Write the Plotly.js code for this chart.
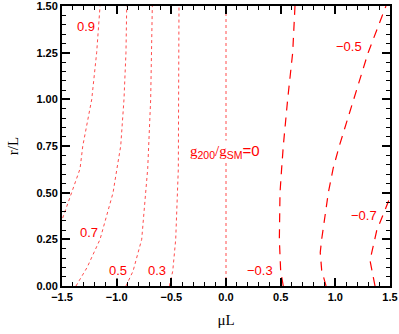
<!DOCTYPE html>
<html>
<head>
<meta charset="utf-8">
<script src="https://cdn.plot.ly/plotly-3.0.1.min.js"></script>
<style>
  html, body { margin: 0; padding: 0; background: #fff; }
  #chart { width: 399px; height: 334px; }
</style>
</head>
<body>
<div id="chart"></div>
<script>
// contour levels, each as (muL, r/L) points
const x09 = [-1.494, -1.41, -1.335, -1.31, -1.228, -1.183, -1.152];
const y09 = [0.364, 0.5, 0.628, 0.75, 1.0, 1.25, 1.5];
const x07 = [-1.372, -1.27, -1.152, -1.033, -0.997, -0.963, -0.933, -0.915, -0.908];
const y07 = [0, 0.1, 0.25, 0.5, 0.63, 0.75, 1.0, 1.25, 1.5];
const x05 = [-0.915, -0.85, -0.771, -0.734, -0.716, -0.689, -0.674];
const y05 = [0, 0.08, 0.25, 0.5, 0.63, 1.0, 1.5];
const x03 = [-0.518, -0.487, -0.46, -0.445, -0.436, -0.43];
const y03 = [0, 0.08, 0.25, 0.5, 0.63, 1.5];
const x00 = [0, 0];
const y00 = [0, 1.5];
const xm03 = [0.524, 0.5, 0.488, 0.494, 0.509, 0.524, 0.564, 0.61, 0.631];
const ym03 = [0, 0.08, 0.25, 0.5, 0.63, 0.75, 1.0, 1.25, 1.5];
const xm05 = [0.915, 0.875, 0.862, 0.875, 0.936, 0.98, 1.036, 1.165, 1.30, 1.463];
const ym05 = [0, 0.085, 0.18, 0.25, 0.5, 0.63, 0.75, 1.0, 1.25, 1.5];
const xm07 = [1.363, 1.317, 1.378, 1.49];
const ym07 = [0, 0.137, 0.296, 0.46];

const labelText = ['0.9', '0.7', '0.5', '0.3', '\u22120.3', '\u22120.5', '\u22120.7'];
const labelX = [-1.28, -1.249, -0.992, -0.627, 0.311, 1.125, 1.262];
const labelY = [1.39, 0.285, 0.084, 0.084, 0.084, 1.283, 0.38];

const xTicks = [-1.5, -1.0, -0.5, 0.0, 0.5, 1.0, 1.5];
const yTicks = [0, 0.25, 0.5, 0.75, 1.0, 1.25, 1.5];

const red = 'rgb(255,0,0)';
const dotted = {color: 'rgba(255,0,0,0.7)', width: 1, dash: 'dot'};
const dashed = {color: red, width: 1.2, dash: '9px,7px'};

function line(x, y, style) {
  return {x: x, y: y, type: 'scatter', mode: 'lines', line: style,
    hoverinfo: 'skip', showlegend: false};
}

const data = [
  line(x09, y09, dotted),
  line(x07, y07, dotted),
  line(x05, y05, dotted),
  line(x03, y03, dotted),
  line(x00, y00, dotted),
  line(xm03, ym03, dashed),
  line(xm05, ym05, dashed),
  line(xm07, ym07, dashed)
];

const annotations = labelText.map((t, i) => ({
  x: labelX[i], y: labelY[i], text: t, showarrow: false,
  font: {family: 'Liberation Sans, Arial, sans-serif', size: 13, color: red},
  bgcolor: 'white', borderpad: 0
}));
annotations.push({
  x: -0.009, y: 0.718, showarrow: false, bgcolor: 'white', borderpad: 1,
  text: '<span style="font-family:Liberation Serif">g</span><sub>200</sub>' +
    '<span style="font-family:Liberation Serif">/g</span><sub>SM</sub>=0',
  font: {family: 'Liberation Sans, Arial, sans-serif', size: 15, color: red}
});

const axisCommon = {
  showgrid: false, zeroline: false, showline: true, linecolor: 'black',
  linewidth: 2, mirror: 'allticks', ticks: 'inside', ticklen: 8,
  tickwidth: 2, tickcolor: 'black', tickmode: 'array',
  ticklabeloverflow: 'allow',
  tickfont: {family: 'Liberation Sans, Arial, sans-serif', size: 11, color: 'black'}
};

const layout = {
  width: 399, height: 334,
  margin: {l: 62, r: 9, t: 6, b: 48},
  paper_bgcolor: 'white', plot_bgcolor: 'white',
  xaxis: Object.assign({}, axisCommon, {
    range: [-1.5, 1.5], tickvals: xTicks,
    ticktext: xTicks.map(v => '<b>' + v.toFixed(1).replace('-', '\u2212') + '</b>'),
    minor: {dtick: 0.1, tick0: -1.5, ticks: 'inside', ticklen: 4, tickwidth: 1, tickcolor: 'black'},
    title: {text: '\u03bcL', standoff: 12,
      font: {family: 'Liberation Serif, Times New Roman, serif', size: 15, color: 'black'}}
  }),
  yaxis: Object.assign({}, axisCommon, {
    range: [0, 1.5], tickvals: yTicks,
    ticktext: yTicks.map(v => '<b>' + v.toFixed(2) + '</b>'),
    minor: {dtick: 0.05, tick0: 0, ticks: 'inside', ticklen: 4, tickwidth: 1, tickcolor: 'black'},
    title: {text: 'r/L', standoff: 14,
      font: {family: 'Liberation Serif, Times New Roman, serif', size: 15, color: 'black'}}
  }),
  annotations: annotations
};

Plotly.newPlot('chart', data, layout, {displayModeBar: false, staticPlot: true});
</script>
</body>
</html>
